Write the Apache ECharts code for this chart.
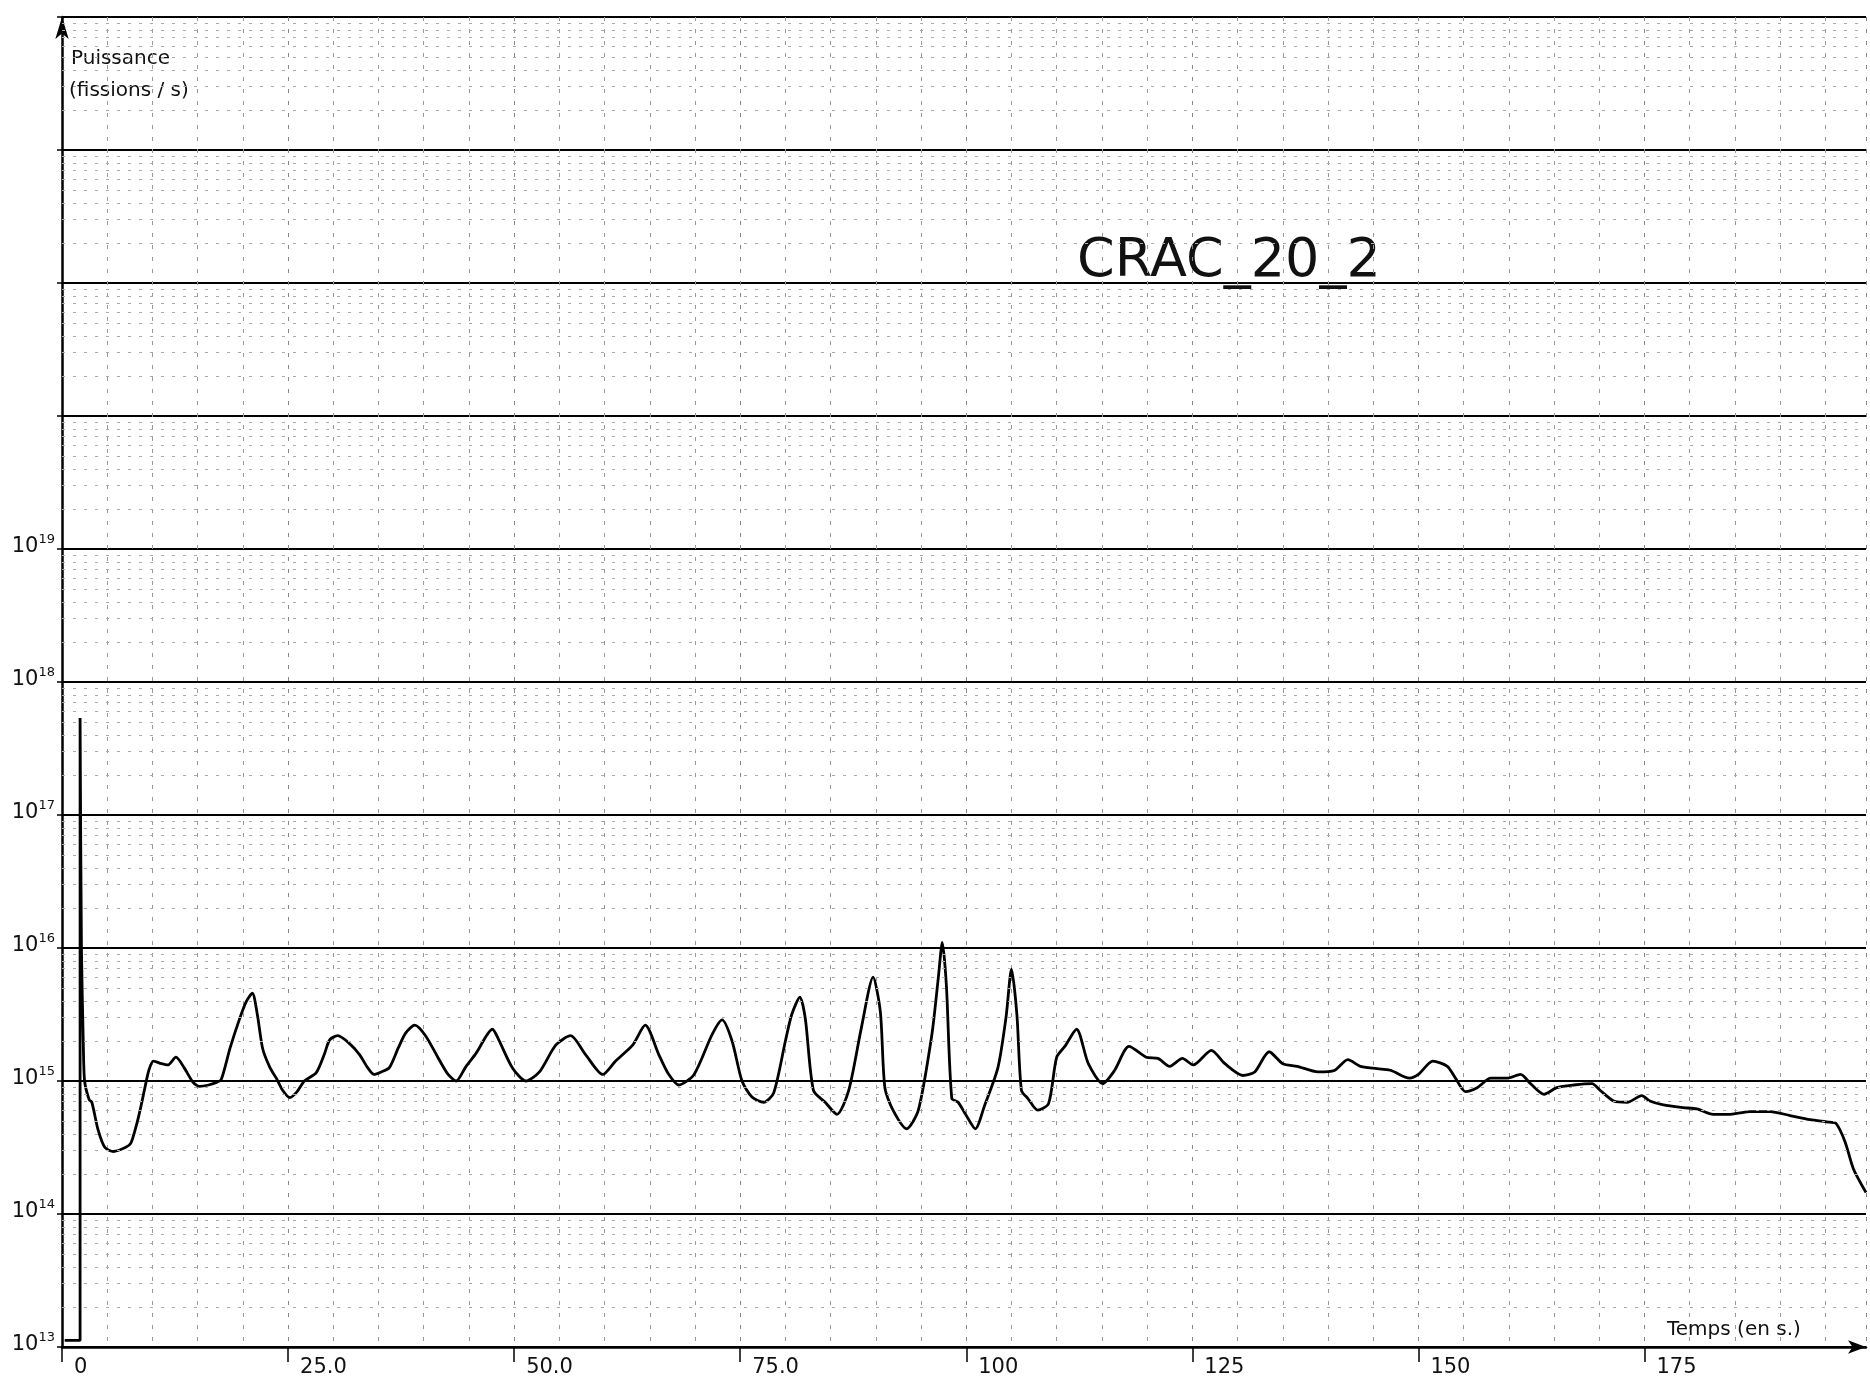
<!DOCTYPE html>
<html><head><meta charset="utf-8">
<script src="https://cdn.jsdelivr.net/npm/echarts@6/dist/echarts.min.js"></script>
<style>html,body{margin:0;padding:0;background:#fff}#c{width:1870px;height:1379px}</style>
</head><body><div id="c"></div>
<script>
// Power trace read from the recording: [time (s), power (fissions/s)]
const powerTrace = [
  [0.3,1.12e13],[2.0,1.12e13],[2.0,5.37e17],[2.15,1.0e16],[2.35,2.0e15],[2.5,1.0e15],
  [3.0,7.24e14],[3.3,6.92e14],[4.0,4.27e14],[4.75,3.16e14],[5.7,2.95e14],[7.0,3.16e14],
  [7.6,3.39e14],[8.2,4.57e14],[8.7,6.31e14],[9.2,9.12e14],[9.6,1.2e15],[10.1,1.41e15],
  [11.0,1.35e15],[11.7,1.32e15],[12.6,1.51e15],[13.5,1.26e15],[14.5,9.77e14],[15.2,9.12e14],
  [16.2,9.33e14],[17.1,9.77e14],[17.6,1.02e15],[18.6,1.78e15],[19.6,2.88e15],[20.4,3.98e15],
  [21.05,4.57e15],[21.6,3.16e15],[22.2,1.74e15],[23.0,1.26e15],[23.7,1.05e15],[24.4,8.51e14],
  [25.2,7.5e14],[26.0,8.32e14],[26.8,1.0e15],[28.1,1.15e15],[29.0,1.58e15],[29.6,2.04e15],
  [30.5,2.19e15],[31.8,1.91e15],[32.9,1.58e15],[33.8,1.26e15],[34.5,1.12e15],[35.3,1.17e15],
  [36.2,1.26e15],[37.2,1.78e15],[38.0,2.29e15],[39.0,2.63e15],[40.2,2.19e15],[41.7,1.45e15],
  [42.7,1.12e15],[43.6,1.0e15],[44.6,1.26e15],[45.8,1.62e15],[47.6,2.45e15],[48.3,2.04e15],
  [49.8,1.26e15],[51.3,1.0e15],[52.8,1.17e15],[54.6,1.86e15],[56.25,2.19e15],[57.9,1.58e15],
  [59.8,1.12e15],[61.2,1.41e15],[63.1,1.86e15],[64.5,2.63e15],[66.0,1.58e15],[67.0,1.15e15],
  [68.2,9.33e14],[69.9,1.12e15],[71.9,2.24e15],[73.0,2.88e15],[74.1,2.0e15],[75.2,1.0e15],
  [76.3,7.59e14],[77.6,6.92e14],[78.7,8.13e14],[80.0,2.0e15],[80.7,3.16e15],[81.6,4.27e15],
  [82.2,2.95e15],[83.1,8.51e14],[84.4,6.92e14],[85.7,5.62e14],[87.0,8.51e14],[88.4,2.51e15],
  [89.7,6.03e15],[90.5,3.31e15],[91.0,8.91e14],[91.9,6.03e14],[93.4,4.37e14],[94.7,6.03e14],
  [96.2,2.24e15],[96.9,5.89e15],[97.35,1.1e16],[97.8,5.25e15],[98.4,7.41e14],[99.1,6.92e14],
  [100.0,5.5e14],[101.0,4.37e14],[102.0,6.46e14],[103.5,1.26e15],[104.4,3.02e15],[105.0,6.92e15],
  [105.6,3.16e15],[106.1,8.51e14],[106.8,7.41e14],[107.9,6.03e14],[109.1,6.76e14],[110.0,1.51e15],
  [110.9,1.82e15],[112.2,2.45e15],[113.5,1.35e15],[115.1,9.55e14],[116.4,1.2e15],[118.0,1.82e15],
  [119.9,1.51e15],[121.2,1.48e15],[122.5,1.29e15],[123.9,1.48e15],[125.1,1.32e15],[127.1,1.7e15],
  [128.6,1.35e15],[130.6,1.1e15],[131.9,1.17e15],[133.5,1.66e15],[135.0,1.35e15],[136.6,1.29e15],
  [138.9,1.17e15],[140.7,1.2e15],[142.2,1.45e15],[143.6,1.29e15],[145.9,1.23e15],[147.0,1.2e15],
  [149.0,1.05e15],[150.0,1.12e15],[151.6,1.41e15],[153.2,1.29e15],[154.1,1.05e15],[155.2,8.32e14],
  [156.5,8.91e14],[158.0,1.05e15],[159.8,1.05e15],[161.3,1.12e15],[162.4,9.55e14],[163.9,7.94e14],
  [165.3,8.91e14],[167.2,9.33e14],[169.2,9.55e14],[170.1,8.51e14],[171.6,7.08e14],[173.1,6.92e14],
  [174.7,7.76e14],[175.6,7.08e14],[177.1,6.61e14],[179.3,6.31e14],[180.8,6.17e14],[182.6,5.62e14],
  [184.5,5.62e14],[186.7,5.89e14],[188.9,5.89e14],[191.1,5.5e14],[193.3,5.13e14],[195.5,4.9e14],
  [196.2,4.79e14],[197.2,3.47e14],[198.1,2.19e14],[199.5,1.45e14]
];
const xTickValues = [0, 25, 50, 75, 100, 125, 150, 175];
const xTickLabels = ['0', '25.0', '50.0', '75.0', '100', '125', '150', '175'];
const yLabelExponents = [13, 14, 15, 16, 17, 18, 19];
const yMinExp = 13, yMaxExp = 23;
const minorMantissas = [2, 3, 4, 5, 6, 7, 8, 9];

const minorLines = [];
for (let e = yMinExp; e < yMaxExp; e++) {
  for (const m of minorMantissas) minorLines.push({ yAxis: m * Math.pow(10, e) });
}

const FONT = '"DejaVu Sans", sans-serif';
const chart = echarts.init(document.getElementById('c'), null, { renderer: 'canvas' });
chart.setOption({
  animation: false,
  backgroundColor: '#ffffff',
  grid: { left: 62, right: 4, top: 17, bottom: 32 },
  xAxis: {
    type: 'value', min: 0, max: 199.5, interval: 25,
    axisLine: { show: true, onZero: false, symbol: ['none', 'arrow'], symbolSize: [10, 18],
      lineStyle: { color: '#000', width: 2.5 } },
    axisTick: { show: true, length: 15, lineStyle: { color: '#000', width: 1.5 } },
    axisLabel: {
      formatter: v => { const i = xTickValues.indexOf(v); return i < 0 ? '' : xTickLabels[i]; },
      align: 'left', padding: [0, 0, 0, 12], margin: 10, showMaxLabel: false,
      fontFamily: FONT, fontSize: 21, color: '#111'
    },
    splitLine: { show: true, lineStyle: { color: '#888', width: 1, type: [4, 8] } },
    minorTick: { show: false, splitNumber: 5 },
    minorSplitLine: { show: true, lineStyle: { color: '#999', width: 1, type: [4, 8] } }
  },
  yAxis: {
    type: 'log', logBase: 10, min: Math.pow(10, yMinExp), max: Math.pow(10, yMaxExp),
    interval: 1, splitNumber: 10,
    axisLine: { show: true, onZero: false, symbol: ['none', 'arrow'], symbolSize: [10, 22],
      lineStyle: { color: '#000', width: 2.5 } },
    axisTick: { show: true, length: 5, lineStyle: { color: '#000', width: 1.5 } },
    axisLabel: {
      formatter: v => {
        const e = Math.round(Math.log10(v));
        return yLabelExponents.indexOf(e) < 0 ? '' : '{b|10}{s|' + e + '}';
      },
      margin: 7, verticalAlign: 'middle', padding: [0, 0, 8, 0],
      rich: {
        b: { fontFamily: FONT, fontSize: 21, color: '#111', lineHeight: 24, verticalAlign: 'bottom' },
        s: { fontFamily: FONT, fontSize: 13, color: '#111', lineHeight: 24, verticalAlign: 'top' }
      }
    },
    splitLine: { show: true, lineStyle: { color: '#000', width: 2 } }
  },
  series: [{
    type: 'line', data: powerTrace, symbol: 'none', smooth: 0.25,
    lineStyle: { color: '#000', width: 2.8 },
    markLine: {
      silent: true, symbol: 'none', animation: false, label: { show: false },
      lineStyle: { color: '#aaa', width: 1, type: [3, 8] },
      data: minorLines
    }
  }],
  graphic: [
    { type: 'text', left: 71, top: 49, style: { text: 'Puissance', font: '20px ' + FONT, fill: '#111' } },
    { type: 'text', left: 69, top: 81, style: { text: '(fissions / s)', font: '20px ' + FONT, fill: '#111' } },
    { type: 'text', left: 1077, top: 235, style: { text: 'CRAC_20_2', font: '54px ' + FONT, fill: '#111' } },
    { type: 'text', left: 1667, top: 1320, style: { text: 'Temps (en s.)', font: '20px ' + FONT, fill: '#111' } }
  ]
});
</script>
</body></html>
